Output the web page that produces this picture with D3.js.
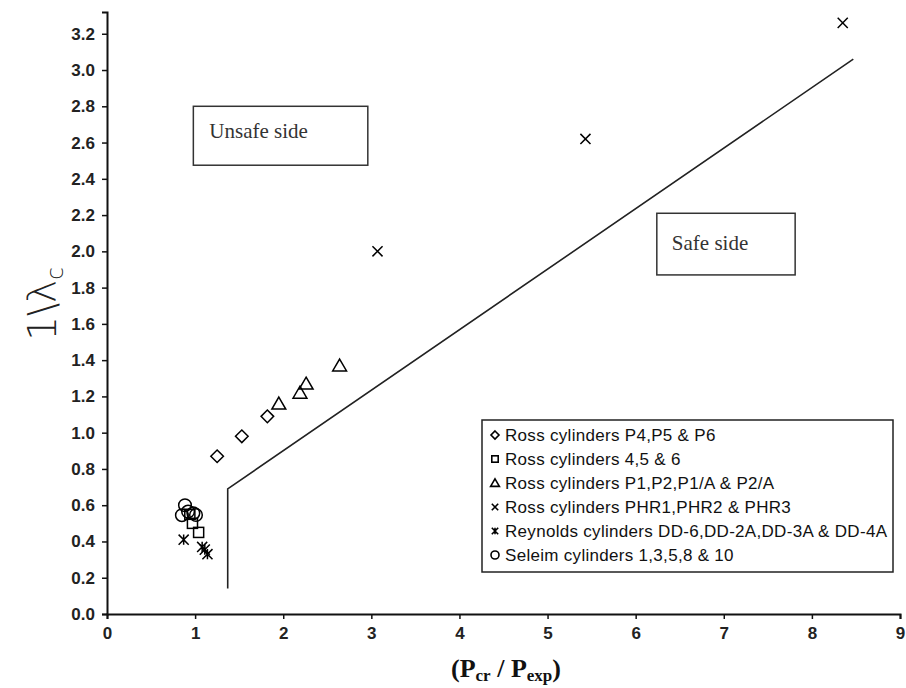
<!DOCTYPE html>
<html>
<head>
<meta charset="utf-8">
<script src="https://cdn.jsdelivr.net/npm/d3@7/dist/d3.min.js"></script>
<style>
  html, body { margin: 0; padding: 0; background: #fff; }
  svg { display: block; }
</style>
</head>
<body>
<div id="chart"></div>
<script>
// Ratio of critical to experimental pressure (x) vs 1/lambda_c (y)
const rossP4P6      = [[1.25, 0.87], [1.53, 0.98], [1.82, 1.09]];
const ross456       = [[0.94, 0.55], [0.97, 0.50], [1.04, 0.45]];
const rossP1P2      = [[1.95, 1.16], [2.19, 1.22], [2.26, 1.27], [2.64, 1.37]];
const rossPHR       = [[3.07, 2.00], [5.43, 2.62], [8.35, 3.26]];
const reynoldsDD    = [[0.87, 0.41], [1.08, 0.37], [1.11, 0.355], [1.14, 0.33]];
const seleim        = [[0.885, 0.60], [0.85, 0.545], [0.92, 0.565], [0.98, 0.556], [1.01, 0.546]];
const designCurve   = [[1.37, 0.14], [1.37, 0.69], [8.47, 3.06]];

const xTicks = [0, 1, 2, 3, 4, 5, 6, 7, 8, 9];
const yTicks = [0, 0.2, 0.4, 0.6, 0.8, 1.0, 1.2, 1.4, 1.6, 1.8, 2.0, 2.2, 2.4, 2.6, 2.8, 3.0, 3.2];
const xMax = 9, yMax = 3.32;

const legendLabels = [
  "Ross cylinders P4,P5 & P6",
  "Ross cylinders 4,5 & 6",
  "Ross cylinders P1,P2,P1/A & P2/A",
  "Ross cylinders PHR1,PHR2 & PHR3",
  "Reynolds cylinders DD-6,DD-2A,DD-3A & DD-4A",
  "Seleim cylinders 1,3,5,8 & 10"
];
const seriesData = [rossP4P6, ross456, rossP1P2, rossPHR, reynoldsDD, seleim];
const seriesShape = ["diamond", "square", "triangle", "cross", "star", "circle"];

const W = 906, H = 688;
const svg = d3.select("#chart").append("svg").attr("width", W).attr("height", H);

const x = d3.scaleLinear().domain([0, xMax]).range([107, 900]);
const y = d3.scaleLinear().domain([0, yMax]).range([614, 12]);

// Axes
const xAxis = d3.axisBottom(x).tickValues(xTicks).tickFormat(d3.format("d")).tickSizeOuter(0).tickSize(5).tickPadding(8);
const yAxis = d3.axisLeft(y).tickValues(yTicks).tickFormat(d3.format(".1f")).tickSizeOuter(0).tickSize(5).tickPadding(6);

const gx = svg.append("g").attr("transform", "translate(0,614)").call(xAxis);
const gy = svg.append("g").attr("transform", "translate(107,0)").call(yAxis);
[gx, gy].forEach(g => {
  g.select(".domain").attr("stroke", "#111").attr("stroke-width", 2);
  g.selectAll(".tick line").attr("stroke", "#111").attr("stroke-width", 1.5);
  g.selectAll(".tick text")
    .attr("fill", "#222")
    .style("font-family", "'Liberation Sans Narrow', 'Liberation Sans', Arial, sans-serif")
    .style("font-size", "17px")
    .style("font-weight", "bold");
});
gy.selectAll(".tick text").attr("dx", "-1");

// Axis titles
const xt = svg.append("text")
  .attr("x", 506).attr("y", 677)
  .attr("text-anchor", "middle")
  .attr("fill", "#111")
  .style("font-family", "'Liberation Serif', 'Times New Roman', serif")
  .style("font-size", "26px")
  .style("font-weight", "bold");
xt.append("tspan").text("(P");
xt.append("tspan").text("cr").attr("dy", 4).style("font-size", "17px");
xt.append("tspan").text(" / P").attr("dy", -4);
xt.append("tspan").text("exp").attr("dy", 4).style("font-size", "17px");
xt.append("tspan").text(")").attr("dy", -4);

const yt = svg.append("text")
  .attr("transform", "translate(56,304) rotate(-90)")
  .attr("text-anchor", "middle")
  .attr("fill", "#222")
  .style("font-family", "'DejaVu Sans', sans-serif")
  .style("font-size", "39px")
  .style("font-weight", "200");
yt.append("tspan").text("1\\λ");
yt.append("tspan").text("c").attr("dy", 7).style("font-size", "23px");

// Design curve
svg.append("path")
  .datum(designCurve)
  .attr("d", d3.line().x(d => x(d[0])).y(d => y(d[1])))
  .attr("fill", "none")
  .attr("stroke", "#222")
  .attr("stroke-width", 1.6);

// Marker drawing
function drawMarker(g, shape, s) {
  const st = { fill: "none", stroke: "#000", "stroke-width": 1.5 };
  let el;
  if (shape === "diamond") {
    el = g.append("path").attr("d", `M0,${-s}L${s},0L0,${s}L${-s},0Z`);
  } else if (shape === "square") {
    el = g.append("rect").attr("x", -s * 0.8).attr("y", -s * 0.8).attr("width", s * 1.6).attr("height", s * 1.6);
  } else if (shape === "triangle") {
    const h = s * 1.9;
    el = g.append("path").attr("d", `M0,${-h * 0.55}L${s * 1.1},${h * 0.45}L${-s * 1.1},${h * 0.45}Z`);
  } else if (shape === "cross") {
    const c = s * 0.8;
    el = g.append("path").attr("d", `M${-c},${-c}L${c},${c}M${c},${-c}L${-c},${c}`);
  } else if (shape === "star") {
    const c = s * 0.8;
    el = g.append("path").attr("d", `M${-c},${-c}L${c},${c}M${c},${-c}L${-c},${c}M0,${-c}L0,${c}`);
  } else {
    el = g.append("circle").attr("r", s);
  }
  Object.entries(st).forEach(([k, v]) => el.attr(k, v));
  return el;
}

seriesData.forEach((data, i) => {
  const g = svg.append("g");
  data.forEach(d => {
    const m = g.append("g").attr("transform", `translate(${x(d[0])},${y(d[1])})`);
    drawMarker(m, seriesShape[i], 6.3);
  });
});

// Annotation boxes
function noteBox(x0, y0, x1, y1, label, tx, ty) {
  svg.append("rect")
    .attr("x", x(x0)).attr("y", y(y0))
    .attr("width", x(x1) - x(x0)).attr("height", y(y1) - y(y0))
    .attr("fill", "#fff").attr("stroke", "#333").attr("stroke-width", 1.5);
  svg.append("text")
    .attr("x", x(x0) + tx).attr("y", y(y0) + ty)
    .attr("fill", "#333")
    .style("font-family", "'Liberation Serif', 'Times New Roman', serif")
    .style("font-size", "21px")
    .text(label);
}
noteBox(0.98, 2.80, 2.96, 2.475, "Unsafe side", 16, 32);
noteBox(6.24, 2.21, 7.81, 1.87, "Safe side", 15, 37);

// Legend
const lg = svg.append("g").attr("transform", "translate(482,420)");
lg.append("rect").attr("width", 411).attr("height", 152)
  .attr("fill", "#fff").attr("stroke", "#222").attr("stroke-width", 1.5);
legendLabels.forEach((t, i) => {
  const row = lg.append("g").attr("transform", `translate(13,${15 + i * 24})`);
  drawMarker(row, seriesShape[i], 4).attr("stroke-width", 1.6);
  row.append("text")
    .attr("x", 10).attr("y", 6)
    .attr("fill", "#111")
    .style("font-family", "'Liberation Sans', Arial, sans-serif")
    .style("font-size", "17px")
    .style("letter-spacing", "0.3px")
    .text(t);
});
</script>
</body>
</html>
